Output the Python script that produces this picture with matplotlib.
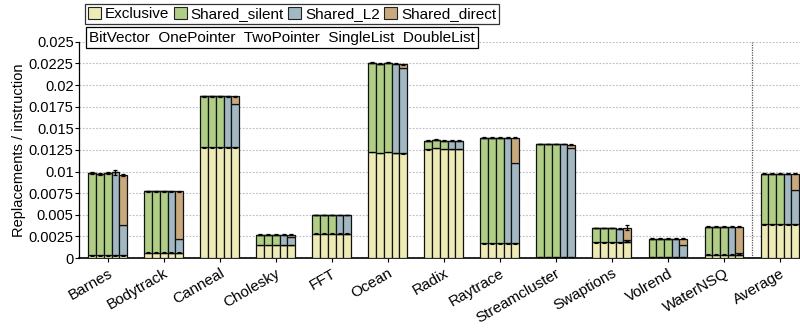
import matplotlib
matplotlib.use("Agg")
import matplotlib.pyplot as plt
from matplotlib.patches import Patch
import numpy as np

plt.rcParams['font.family'] = ['Liberation Sans', 'DejaVu Sans']

benchmarks = ["Barnes", "Bodytrack", "Canneal", "Cholesky", "FFT", "Ocean", "Radix",
              "Raytrace", "Streamcluster", "Swaptions", "Volrend", "WaterNSQ", "Average"]
schemes = ["BitVector", "OnePointer", "TwoPointer", "SingleList", "DoubleList"]
segments = ["Exclusive", "Shared_silent", "Shared_L2", "Shared_direct"]

# per benchmark: values for BitVector, OnePointer, TwoPointer, SingleList, DoubleList
exclusive = [
    [0.0003, 0.0003, 0.0003, 0.0003, 0.0003],
    [0.0006, 0.0006, 0.0006, 0.0006, 0.0006],
    [0.0128, 0.0128, 0.0128, 0.0128, 0.0128],
    [0.0015, 0.0015, 0.0015, 0.0015, 0.0015],
    [0.0028, 0.0028, 0.0028, 0.0028, 0.0028],
    [0.01227, 0.01215, 0.01227, 0.01215, 0.0121],
    [0.01255, 0.01273, 0.0126, 0.0126, 0.0126],
    [0.0017, 0.0017, 0.0017, 0.0017, 0.0017],
    [0.0001, 0.0001, 0.0001, 0.0001, 0.0001],
    [0.0018, 0.0018, 0.0018, 0.0018, 0.0019],
    [0.0001, 0.0001, 0.0001, 0.0001, 0.0001],
    [0.0004, 0.0004, 0.0004, 0.0004, 0.0004],
    [0.0039, 0.0039, 0.0039, 0.0039, 0.0039],
]
shared_silent = [
    [0.0095, 0.0094, 0.0095, 0, 0],
    [0.0071, 0.0071, 0.0071, 0, 0],
    [0.0059, 0.0059, 0.0059, 0, 0],
    [0.0012, 0.0012, 0.0012, 0, 0],
    [0.0022, 0.0022, 0.0022, 0, 0],
    [0.01033, 0.0103, 0.01033, 0, 0],
    [0.0010, 0.00097, 0.00095, 0, 0],
    [0.0122, 0.0122, 0.0122, 0, 0],
    [0.0131, 0.0131, 0.0131, 0, 0],
    [0.00167, 0.00167, 0.00167, 0, 0],
    [0.00214, 0.00214, 0.00214, 0, 0],
    [0.00323, 0.00323, 0.00323, 0, 0],
    [0.00587, 0.00587, 0.00587, 0, 0],
]
shared_l2 = [
    [0, 0, 0, 0.0096, 0.0035],
    [0, 0, 0, 0.0071, 0.0016],
    [0, 0, 0, 0.0059, 0.0050],
    [0, 0, 0, 0.0012, 0.00093],
    [0, 0, 0, 0.0022, 0.0022],
    [0, 0, 0, 0.0103, 0.0099],
    [0, 0, 0, 0.00095, 0.00095],
    [0, 0, 0, 0.0122, 0.0093],
    [0, 0, 0, 0.0131, 0.0126],
    [0, 0, 0, 0.0016, 0.0002],
    [0, 0, 0, 0.00214, 0.00145],
    [0, 0, 0, 0.00323, 0.00022],
    [0, 0, 0, 0.00587, 0.0040],
]
shared_direct = [
    [0, 0, 0, 0, 0.0058],
    [0, 0, 0, 0, 0.0055],
    [0, 0, 0, 0, 0.0009],
    [0, 0, 0, 0, 0.00027],
    [0, 0, 0, 0, 0.0],
    [0, 0, 0, 0, 0.0004],
    [0, 0, 0, 0, 0.0],
    [0, 0, 0, 0, 0.0029],
    [0, 0, 0, 0, 0.0004],
    [0, 0, 0, 0, 0.0014],
    [0, 0, 0, 0, 0.00069],
    [0, 0, 0, 0, 0.00301],
    [0, 0, 0, 0, 0.00187],
]
# spread of the total per bar
total_err = [
    [0.0001, 0.0001, 0.0001, 0.0003, 0.0001],
    [0.00003] * 5,
    [0.00003] * 5,
    [0.00003] * 5,
    [0.00003] * 5,
    [0.0001, 0.00005, 0.00006, 0.00005, 0.00005],
    [0.00005] * 5,
    [0.00005] * 5,
    [0.00003] * 5,
    [0.00005, 0.00005, 0.00005, 0.00005, 0.0003],
    [0.00003] * 5,
    [0.00005] * 5,
    [0.00005] * 5,
]
y_ticks = [0, 0.0025, 0.005, 0.0075, 0.01, 0.0125, 0.015, 0.0175, 0.02, 0.0225, 0.025]
y_tick_labels = ["0", "0.0025", "0.005", "0.0075", "0.01", "0.0125", "0.015",
                 "0.0175", "0.02", "0.0225", "0.025"]

colors = ["#EEEBB6", "#B1CE86", "#A2B9C3", "#C9AA7E"]

fig = plt.figure(figsize=(8, 3.29), dpi=100)
ax = fig.add_axes([0.099, 0.2158, 0.901, 0.657])

n_b = len(benchmarks)
n_s = len(schemes)
w = 0.138
data = [np.array(exclusive), np.array(shared_silent), np.array(shared_l2), np.array(shared_direct)]
errs = np.array(total_err)

for j in range(n_s):
    x = np.arange(n_b) + (j - (n_s - 1) / 2) * w
    bottom = np.zeros(n_b)
    for k, seg in enumerate(data):
        vals = seg[:, j]
        ax.bar(x, vals, w, bottom=bottom, color=colors[k], edgecolor="#111111",
               linewidth=0.9, zorder=3)
        bottom = bottom + vals
    ax.errorbar(x, bottom, yerr=errs[:, j], fmt="none", ecolor="black",
                elinewidth=0.9, capsize=1.5, capthick=0.9, zorder=4)
    # small spread marks at the exclusive boundary
    ex = data[0][:, j]
    ax.errorbar(x, ex, yerr=np.full(n_b, 0.00004), fmt="none", ecolor="black",
                elinewidth=0.8, capsize=1.2, capthick=0.8, zorder=4)

ax.set_xlim(-0.51, 12.36)
ax.set_ylim(0, 0.025)
ax.set_yticks(y_ticks)
ax.set_yticklabels(y_tick_labels, fontsize=10.5)
ax.set_xticks(np.arange(n_b))
ax.set_xticklabels(benchmarks, rotation=30, ha="right", rotation_mode="anchor", fontsize=11)
ax.tick_params(axis="x", length=3, width=0.8, pad=3)
ax.tick_params(axis="y", length=3, width=0.8, pad=1)
ax.set_ylabel("Replacements / instruction", fontsize=10.5, labelpad=2)

ax.yaxis.grid(True, linestyle=(0, (1.5, 1.5)), color="#BBBBBB", linewidth=0.8, zorder=0)
ax.set_axisbelow(True)
ax.axvline(11.5, color="#555555", linestyle=(0, (1, 1)), linewidth=0.9, zorder=2)

for s in ["top", "right"]:
    ax.spines[s].set_visible(False)
ax.spines["left"].set_linewidth(0.9)
ax.spines["bottom"].set_linewidth(1.2)

handles = [Patch(facecolor=c, edgecolor="#222222", linewidth=0.8) for c in colors]
leg = fig.legend(handles, segments, loc="center left", bbox_to_anchor=(0.106, 0.957),
                 ncol=4, fontsize=11, frameon=True, fancybox=False, handlelength=0.85,
                 handleheight=0.85, handletextpad=0.25, columnspacing=0.3, borderpad=0.2,
                 borderaxespad=0)
leg.get_frame().set_edgecolor("black")
leg.get_frame().set_linewidth(0.9)

fig.text(0.111, 0.886, "  ".join(schemes), fontsize=11, va="center", ha="left",
         bbox=dict(boxstyle="square,pad=0.2", facecolor="white", edgecolor="black",
                   linewidth=0.9))

fig.savefig("out.png", dpi=100)
